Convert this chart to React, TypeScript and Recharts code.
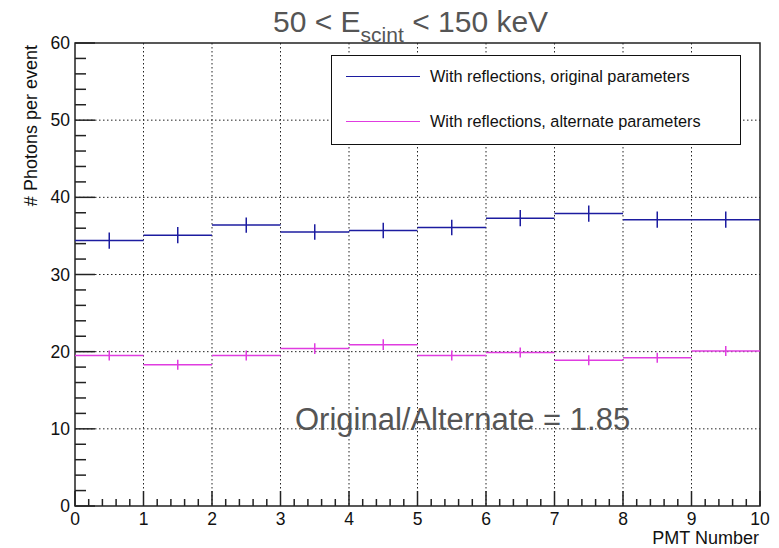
import { ComposedChart, Scatter, ErrorBar, XAxis, YAxis, CartesianGrid, ReferenceArea, Legend, Customized } from 'recharts';

// PMT bins 0..9, drawn at bin centres with half-width x error
const pmtCenters = [0.5, 1.5, 2.5, 3.5, 4.5, 5.5, 6.5, 7.5, 8.5, 9.5];
const originalPhotons = [34.4, 35.1, 36.4, 35.5, 35.7, 36.1, 37.3, 37.9, 37.1, 37.1];
const originalErrors = [1.05, 1.05, 1.0, 1.0, 1.0, 1.0, 1.05, 1.05, 1.05, 1.05];
const alternatePhotons = [19.5, 18.3, 19.5, 20.4, 20.9, 19.5, 19.9, 18.9, 19.2, 20.1];
const alternateErrors = [0.65, 0.65, 0.65, 0.7, 0.7, 0.65, 0.65, 0.65, 0.65, 0.65];
const binHalfWidth = 0.5;

const xMajorTicks = [0, 1, 2, 3, 4, 5, 6, 7, 8, 9, 10];
const yMajorTicks = [0, 10, 20, 30, 40, 50, 60];
const xTicks = Array.from({ length: 51 }, (_, i) => Math.round(i * 2) / 10);
const yTicks = Array.from({ length: 31 }, (_, i) => i * 2);

const seriesNames = ['With reflections, original parameters', 'With reflections, alternate parameters'];
const ratioLabel = 'Original/Alternate = 1.85';

const BLUE = '#1c1ca0';
const MAGENTA = '#e03ce0';
const FONT = '"Liberation Sans", Arial, Helvetica, sans-serif';

const toRows = (ys: number[], errs: number[]) =>
  pmtCenters.map((x, i) => ({ x, y: ys[i], ex: binHalfWidth, ey: errs[i] }));

const originalRows = toRows(originalPhotons, originalErrors);
const alternateRows = toRows(alternatePhotons, alternateErrors);

const XTick = (props: any) => {
  const { x, y, payload } = props;
  const v = payload.value;
  const major = xMajorTicks.includes(v);
  return (
    <g>
      <line x1={x} x2={x} y1={y} y2={y - (major ? 15 : 7)} stroke="#222" strokeWidth={1.5} />
      {major && (
        <text x={x} y={y + 19} textAnchor="middle" fontSize={17.5} fontFamily={FONT} fill="#111">
          {v}
        </text>
      )}
    </g>
  );
};

const YTick = (props: any) => {
  const { x, y, payload } = props;
  const v = payload.value;
  const major = yMajorTicks.includes(v);
  return (
    <g>
      <line x1={x} x2={x + (major ? 20 : 11)} y1={y} y2={y} stroke="#222" strokeWidth={1.5} />
      {major && (
        <text x={x - 5} y={y + 6} textAnchor="end" fontSize={17.5} fontFamily={FONT} fill="#111">
          {v}
        </text>
      )}
    </g>
  );
};

const LegendBox = () => (
  <div
    style={{
      position: 'absolute',
      left: 331,
      top: 55,
      width: 410,
      height: 90,
      border: '1.5px solid #111',
      background: '#fff',
      boxSizing: 'border-box',
      fontFamily: FONT,
      fontSize: 16.3,
      color: '#111',
    }}
  >
    {[BLUE, MAGENTA].map((c, i) => (
      <div key={i} style={{ position: 'absolute', left: 14, top: i === 0 ? 11 : 56, display: 'flex', alignItems: 'center' }}>
        <div style={{ width: 74, height: 0, borderTop: `1.5px solid ${c}` }} />
        <span style={{ marginLeft: 10, whiteSpace: 'nowrap' }}>{seriesNames[i]}</span>
      </div>
    ))}
  </div>
);

const Texts = () => (
  <g fontFamily={FONT}>
    <text x={273} y={32} fontSize={30} fill="#555">
      50 {'<'} E
      <tspan fontSize={21} dy={10}>scint</tspan>
      <tspan dy={-10}> {'<'} 150 keV</tspan>
    </text>
    <text x={295} y={430} fontSize={31} fill="#555">
      {ratioLabel}
    </text>
    <text
      transform="translate(37, 45) rotate(-90)"
      textAnchor="end"
      fontSize={18}
      fill="#111"
    >
      # Photons per event
    </text>
    <text x={759} y={544} textAnchor="end" fontSize={18} fill="#111">
      PMT Number
    </text>
  </g>
);

export default function App() {
  return (
    <div style={{ position: 'absolute', left: 0, top: 0, background: '#fff' }}>
      <ComposedChart width={779} height={548} margin={{ top: 43, right: 19, bottom: 0, left: 0 }}>
        <CartesianGrid
          stroke="#222"
          strokeDasharray="1.5 2.5"
          horizontalValues={[10, 20, 30, 40, 50]}
          verticalValues={[1, 2, 3, 4, 5, 6, 7, 8, 9]}
        />
        <XAxis
          dataKey="x"
          type="number"
          domain={[0, 10]}
          ticks={xTicks}
          interval={0}
          tickSize={0}
          tickMargin={0}
          axisLine={false}
          tick={(p: any) => <XTick {...p} />}
          height={42}
          allowDataOverflow
        />
        <YAxis
          dataKey="y"
          type="number"
          domain={[0, 60]}
          ticks={yTicks}
          interval={0}
          tickSize={0}
          tickMargin={0}
          axisLine={false}
          tick={(p: any) => <YTick {...p} />}
          width={75}
          allowDataOverflow
        />
        <ReferenceArea x1={0} x2={10} y1={0} y2={60} fill="none" stroke="#222" strokeWidth={1.5} />
        <Scatter data={originalRows} dataKey="y" isAnimationActive={false} shape={() => <g />}>
          <ErrorBar dataKey="ex" direction="x" width={0} stroke={BLUE} strokeWidth={1.5} isAnimationActive={false} />
          <ErrorBar dataKey="ey" direction="y" width={0} stroke={BLUE} strokeWidth={1.5} isAnimationActive={false} />
        </Scatter>
        <Scatter data={alternateRows} dataKey="y" isAnimationActive={false} shape={() => <g />}>
          <ErrorBar dataKey="ex" direction="x" width={0} stroke={MAGENTA} strokeWidth={1.5} isAnimationActive={false} />
          <ErrorBar dataKey="ey" direction="y" width={0} stroke={MAGENTA} strokeWidth={1.5} isAnimationActive={false} />
        </Scatter>
        <Legend content={() => <LegendBox />} wrapperStyle={{ position: 'absolute', left: 0, top: 0, width: 0, height: 0 }} />
        <Customized component={Texts} />
      </ComposedChart>
    </div>
  );
}
